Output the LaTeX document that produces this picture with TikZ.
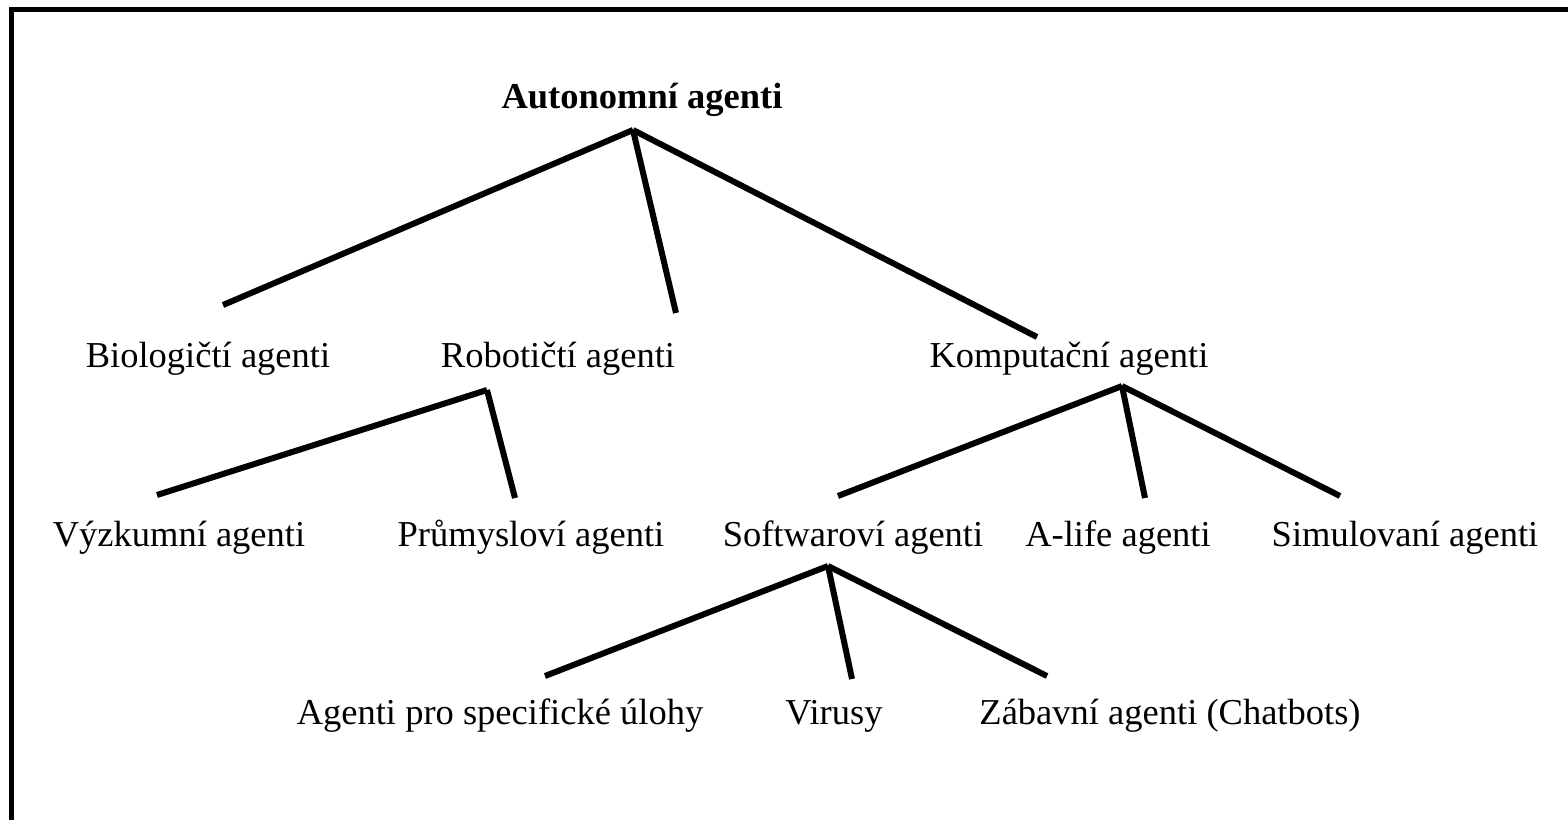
\documentclass[tikz,border=0pt]{standalone}
\usepackage{fontspec}
\setmainfont{Liberation Serif}
\begin{document}
\begin{tikzpicture}[x=1pt,y=-1pt,line cap=butt,
    branch/.style={line width=6pt},
    lab/.style={anchor=base,inner sep=0pt,font=\fontsize{36.5}{40}\selectfont}]
\useasboundingbox (0,0) rectangle (1568,820);
\draw[line width=5pt,line join=miter] (11.5,820)--(11.5,9.5)--(1568,9.5);
% uzly
\node[lab,font=\fontsize{36.5}{40}\selectfont\bfseries] (root) at (642,108) {Autonomní agenti};
\node[lab] (bio) at (208,367) {Biologičtí agenti};
\node[lab] (robo) at (558,367) {Robotičtí agenti};
\node[lab] (komp) at (1069,367) {Komputační agenti};
\node[lab] (vyzk) at (179,546) {Výzkumní agenti};
\node[lab] (prum) at (531,546) {Průmysloví agenti};
\node[lab] (soft) at (853,546) {Softwaroví agenti};
\node[lab] (alife) at (1118,546) {A-life agenti};
\node[lab] (simul) at (1405,546) {Simulovaní agenti};
\node[lab] (ulohy) at (500,724) {Agenti pro specifické úlohy};
\node[lab] (virusy) at (834,724) {Virusy};
\node[lab] (zabav) at (1170,724) {Zábavní agenti (Chatbots)};
% body vetveni
\coordinate (root-b) at (633,130);
\coordinate (bio-t) at (223,305);
\coordinate (robo-t) at (676,313);
\coordinate (komp-t) at (1037,337);
\coordinate (robo-b) at (487,390);
\coordinate (vyzk-t) at (157,495);
\coordinate (prum-t) at (515,498);
\coordinate (komp-b) at (1122,386);
\coordinate (soft-t) at (838,496);
\coordinate (alife-t) at (1145,498);
\coordinate (simul-t) at (1340,496);
\coordinate (soft-b) at (828,566);
\coordinate (ulohy-t) at (545,676);
\coordinate (virusy-t) at (852,679);
\coordinate (zabav-t) at (1047,676);
% spojnice
\foreach \a/\b in {root-b/bio-t,root-b/robo-t,root-b/komp-t,robo-b/vyzk-t,robo-b/prum-t,komp-b/soft-t,komp-b/alife-t,komp-b/simul-t,soft-b/ulohy-t,soft-b/virusy-t,soft-b/zabav-t}
\draw[branch] (\a)--(\b);
\end{tikzpicture}
\end{document}
